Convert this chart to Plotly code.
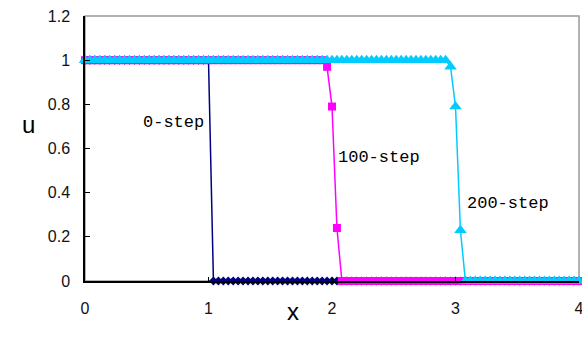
import numpy as np
import plotly.graph_objects as go

# grid of x positions (0 to 4, step 0.04)
x = np.round(np.arange(0, 4.0001, 0.04), 2)

# u values
u_0step = [1.0] * 26 + [0.0] * 75
u_100step = [1.0] * 49 + [0.97, 0.79, 0.24] + [0.0] * 49
u_200step = [1.0] * 74 + [0.97, 0.79, 0.23] + [0.0] * 24

series_names = ["0-step", "100-step", "200-step"]
x_ticks = [0, 1, 2, 3, 4]
y_ticks = [0, 0.2, 0.4, 0.6, 0.8, 1, 1.2]
y_tick_text = ["0", "0.2", "0.4", "0.6", "0.8", "1", "1.2"]

fig = go.Figure()
fig.add_trace(go.Scatter(x=x, y=u_0step, mode="lines+markers", name=series_names[0],
                         line=dict(color="#000080", width=1.5),
                         marker=dict(symbol="diamond", size=7, color="#000080"),
                         cliponaxis=False))
fig.add_trace(go.Scatter(x=x, y=u_100step, mode="lines+markers", name=series_names[1],
                         line=dict(color="#FF00FF", width=1.5),
                         marker=dict(symbol="square", size=8, color="#FF00FF"),
                         cliponaxis=False))
fig.add_trace(go.Scatter(x=x, y=u_200step, mode="lines+markers", name=series_names[2],
                         line=dict(color="#00CCFF", width=1.5),
                         marker=dict(symbol="triangle-up", size=11, color="#00CCFF"),
                         cliponaxis=False))

label_font = dict(family="Liberation Mono", size=17, color="#000000")
fig.add_annotation(x=1.0, y=0.72, xref="x", yref="y", text="0-step", showarrow=False,
                   xanchor="right", xshift=-3, font=label_font)
fig.add_annotation(x=2.02, y=0.56, xref="x", yref="y", text="100-step", showarrow=False,
                   xanchor="left", xshift=2, font=label_font)
fig.add_annotation(x=3.06, y=0.35, xref="x", yref="y", text="200-step", showarrow=False,
                   xanchor="left", xshift=2, font=label_font)

title_font = dict(family="Liberation Sans", size=24, color="#000000")
fig.add_annotation(x=-0.1316, y=0.59, xref="paper", yref="paper", text="u", showarrow=False,
                   font=title_font)
fig.add_annotation(x=0.421, y=-0.175, xref="paper", yref="paper", text="x", showarrow=False,
                   font=title_font)

# gray frame top/right
fig.add_shape(type="rect", xref="paper", yref="paper", x0=0, y0=0, x1=1, y1=1,
              line=dict(color="#999999", width=1.5), layer="below")

fig.update_xaxes(range=[0, 4], tickvals=x_ticks, showgrid=False, zeroline=False,
                 showline=True, linecolor="#000000", linewidth=1.5,
                 ticks="inside", ticklen=4, tickcolor="#000000",
                 tickfont=dict(family="Liberation Sans", size=16, color="#111111"),
                 ticklabelstandoff=12, automargin=False, ticklabeloverflow="allow")
fig.update_yaxes(range=[0, 1.2], tickvals=y_ticks, ticktext=y_tick_text, showgrid=False,
                 zeroline=False, showline=True, linecolor="#000000", linewidth=1.5,
                 ticks="inside", ticklen=5, tickcolor="#000000",
                 tickfont=dict(family="Liberation Sans", size=16, color="#111111"),
                 ticklabelstandoff=10, automargin=False, ticklabeloverflow="allow")

fig.update_layout(width=582, height=340, margin=dict(l=85, r=3, t=16, b=59, autoexpand=False),
                  paper_bgcolor="white", plot_bgcolor="white", showlegend=False)

fig.write_html("out.html", config={"displayModeBar": False},
               post_script="document.body.style.margin='0';document.body.style.overflow='hidden';")
